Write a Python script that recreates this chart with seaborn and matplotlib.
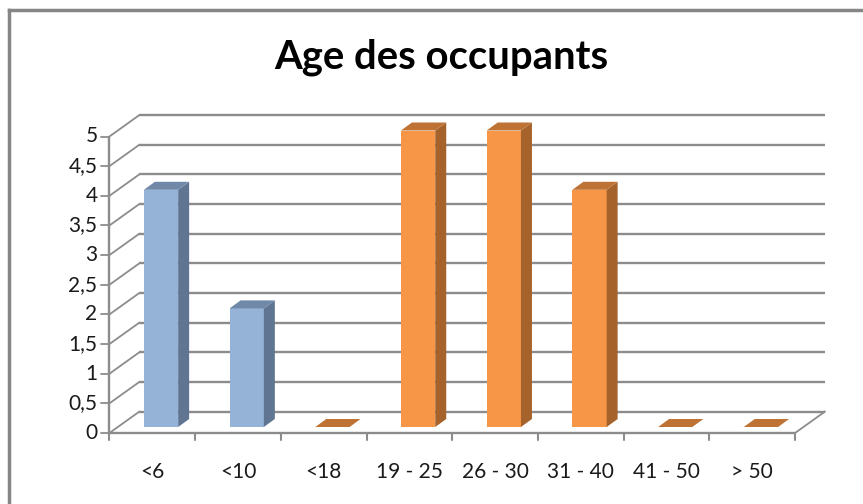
import matplotlib
matplotlib.use('Agg')
import matplotlib.pyplot as plt
import seaborn as sns
import pandas as pd
from matplotlib.lines import Line2D
from matplotlib.patches import Polygon

sns.set_style("white")
plt.rcParams['font.family'] = ['Lato', 'DejaVu Sans']

categories = ['<6', '<10', '<18', '19 - 25', '26 - 30', '31 - 40', '41 - 50', '> 50']
values = [4, 2, 0, 5, 5, 4, 0, 0]
groups = ['a', 'a', 'b', 'b', 'b', 'b', 'b', 'b']
y_ticks = [0, 0.5, 1, 1.5, 2, 2.5, 3, 3.5, 4, 4.5, 5]
y_labels = ['0', '0,5', '1', '1,5', '2', '2,5', '3', '3,5', '4', '4,5', '5']

front = {'a': '#95B3D7', 'b': '#F79646'}
side = {'a': '#5F7592', 'b': '#A5622B'}
top = {'a': '#7089A8', 'b': '#BE7234'}
line_col = '#8C8C8C'
text_col = '#1a1a1a'

W, H = 863, 504
# pixels per category and per unit on the picture
px_x = 85.7
px_y = 59.3

fig = plt.figure(figsize=(W / 100, H / 100), dpi=100)
ax = fig.add_axes([0, 0, 1, 1])

df = pd.DataFrame({'cat': categories, 'val': values, 'grp': groups})
sns.barplot(data=df, x='cat', y='val', hue='grp', palette=front, dodge=False, saturation=1,
            width=0.4, legend=False, ax=ax, zorder=3, linewidth=0)

# x: category 0 sits on pixel 152.3 of the front plane, y: value 0 on pixel row 433
ax.set_xlim(-152.3 / px_x, (W - 152.3) / px_x)
ax.set_ylim((433 - H) / px_y, 433 / px_y)
ax.axis('off')

# depth offsets in data units
wall_dx, wall_dy = 30 / px_x, 21.5 / px_y
bar_dx, bar_dy = 8.7 / px_x, 6 / px_y
depth_dx, depth_dy = 11 / px_x, 8 / px_y

x0, x1 = -0.5, 7.5

# back wall gridlines and left wall
for t, lab in zip(y_ticks, y_labels):
    ax.plot([x0 + wall_dx, x1 + wall_dx], [t + wall_dy, t + wall_dy], color=line_col, lw=1.7, zorder=1,
            solid_capstyle='butt')
    ax.plot([x0, x0 + wall_dx], [t, t + wall_dy], color=line_col, lw=1.3, zorder=1)
    ax.plot([x0 - 8 / px_x, x0], [t, t], color=line_col, lw=1.3, zorder=1)
    ax.text(x0 - 12 / px_x, t, lab, ha='right', va='center', fontsize=15, color=text_col)

# front axis lines and floor
ax.plot([x0, x0], [0, 5], color=line_col, lw=1.7, zorder=1)
ax.plot([x0, x1], [0, 0], color=line_col, lw=1.7, zorder=1)
ax.plot([x1, x1 + wall_dx], [0, wall_dy], color=line_col, lw=1.3, zorder=1)
for i in range(len(categories) + 1):
    ax.plot([x0 + i, x0 + i], [0, -7 / px_y], color=line_col, lw=1.5, zorder=1)

for i, c in enumerate(categories):
    ax.text(i, -39 / px_y, c, ha='center', va='center', fontsize=15, color=text_col)

# shift bars back and give them a side and top face
for bar, v, g in zip(ax.patches, values, groups):
    bar.set_x(bar.get_x() + bar_dx)
    bar.set_y(bar_dy)
    bx0 = bar.get_x()
    bx1 = bx0 + bar.get_width()
    by0 = bar_dy
    by1 = by0 + v
    ax.add_patch(Polygon([(bx1, by0), (bx1 + depth_dx, by0 + depth_dy),
                          (bx1 + depth_dx, by1 + depth_dy), (bx1, by1)],
                         facecolor=side[g], edgecolor='none', zorder=3))
    ax.add_patch(Polygon([(bx0, by1), (bx0 + depth_dx, by1 + depth_dy),
                          (bx1 + depth_dx, by1 + depth_dy), (bx1, by1)],
                         facecolor=top[g], edgecolor='none', zorder=3))

ax.text((441 - 152.3) / px_x, (433 - 57) / px_y, 'Age des occupants', ha='center', va='center',
        fontsize=28.8, fontweight='bold', color='black')

# chart frame, only top and left edges are in view
fig.add_artist(Line2D([8.5 / W, 8.5 / W], [0, 1 - 10 / H], color='#868686', lw=2.5,
                      solid_capstyle='projecting', transform=fig.transFigure))
fig.add_artist(Line2D([8.5 / W, 1], [1 - 10 / H, 1 - 10 / H], color='#868686', lw=2.5,
                      solid_capstyle='projecting', transform=fig.transFigure))

plt.savefig('out.png', dpi=100, facecolor='white')
plt.close()
